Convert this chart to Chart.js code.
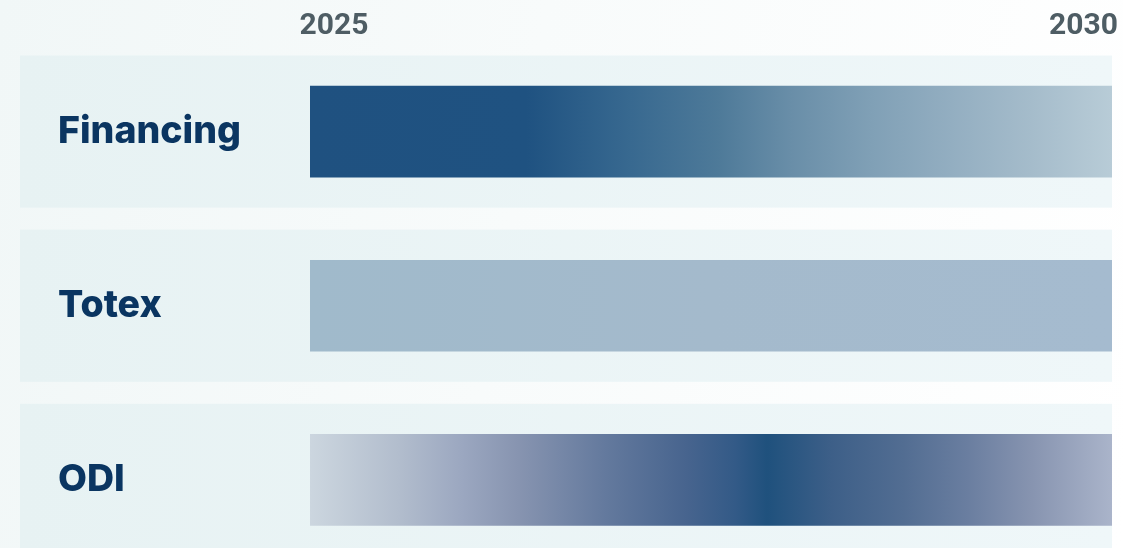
<!DOCTYPE html>
<html>
<head>
<meta charset="utf-8">
<title>timeline</title>
<script src="https://cdn.jsdelivr.net/npm/chart.js@4.4.1/dist/chart.umd.min.js"></script>
<style>
  html, body { margin: 0; padding: 0; overflow: hidden; }
  body {
    width: 1123px;
    height: 548px;
    background: linear-gradient(100deg, #f1f7f7 0%, #f8fbfb 45%, #ffffff 100%);
  }
  .wrap { position: relative; width: 1123px; height: 567px; }
</style>
</head>
<body>
<div class="wrap"><canvas id="myChart"></canvas></div>
<script>
  // rows and their periods
  const rows = ['Financing', 'Totex', 'ODI'];
  const periodStart = [2025, 2025, 2025];
  const periodEnd = [2030, 2030, 2030];
  const tickYears = [2025, 2030];
  // the year labels sit a little inside the bar ends
  const labelAxisRange = [2024.84, 2030.19];

  // gradient stops for each bar (offset, colour)
  const barStops = [
    [[0, '#1f5180'], [0.27, '#1f5281'], [0.4, '#386990'], [0.51, '#4e7a99'], [0.6, '#698ea8'],
     [0.7, '#80a0b6'], [0.8, '#93aec1'], [0.9, '#a5bccb'], [1, '#b8ccd7']],
    [[0, '#a0bacb'], [0.5, '#a4bacc'], [1, '#a5bbcf']],
    [[0, '#ccd6df'], [0.11, '#b2bdcd'], [0.19, '#9ba7c0'], [0.26, '#8794b0'], [0.37, '#63799d'],
     [0.47, '#47648e'], [0.53, '#335a87'], [0.57, '#1f517d'], [0.65, '#3d5f88'], [0.74, '#526d92'],
     [0.82, '#6a7ea0'], [0.9, '#8794b0'], [1, '#aab4ca']]
  ];

  function barFill(c) {
    const i = c.dataIndex;
    const area = c.chart.chartArea;
    if (i === undefined || !area) return '#1f5180';
    const xs = c.chart.scales.x;
    const g = c.chart.ctx.createLinearGradient(xs.getPixelForValue(periodStart[i]), 0, xs.getPixelForValue(periodEnd[i]), 0);
    barStops[i].forEach(s => g.addColorStop(s[0], s[1]));
    return g;
  }

  // light panel behind every row, drawn before the axes
  const rowPanels = {
    id: 'rowPanels',
    beforeDraw(chart) {
      const ctx = chart.ctx, area = chart.chartArea, y = chart.scales.y;
      const band = (area.bottom - area.top) / rows.length;
      const left = 20, gap = 22;
      const g = ctx.createLinearGradient(left, 0, area.right, 0);
      g.addColorStop(0, '#e7f2f3');
      g.addColorStop(1, '#eff7f9');
      ctx.save();
      ctx.fillStyle = g;
      rows.forEach((r, i) => {
        const c = y.getPixelForValue(i);
        ctx.fillRect(left, c - band / 2 + gap / 2, area.right - left, band - gap);
      });
      ctx.restore();
    }
  };

  const ctx = document.getElementById('myChart').getContext('2d');
  const myChart = new Chart(ctx, {
    type: 'bar',
    data: {
      labels: rows,
      datasets: [{
        data: rows.map((r, i) => [periodStart[i], periodEnd[i]]),
        backgroundColor: barFill,
        borderWidth: 0,
        borderSkipped: false,
        barThickness: 91,
        xAxisID: 'x',
        yAxisID: 'y'
      }]
    },
    options: {
      indexAxis: 'y',
      responsive: true,
      maintainAspectRatio: false,
      animation: false,
      layout: { padding: { left: 58, right: 11, top: 0, bottom: 0 } },
      plugins: { legend: { display: false }, tooltip: { enabled: false } },
      scales: {
        x: { type: 'linear', min: 2025, max: 2030, display: false },
        x2: {
          type: 'linear',
          position: 'top',
          min: labelAxisRange[0],
          max: labelAxisRange[1],
          grid: { display: false, drawTicks: false },
          border: { display: false },
          afterBuildTicks: s => { s.ticks = tickYears.map(v => ({ value: v })); },
          afterFit: s => { s.height = 44.5; s.paddingLeft = 0; s.paddingRight = 0; },
          ticks: {
            padding: 0,
            color: '#4e5d64',
            font: { family: 'Roboto', weight: '700', size: 30 },
            callback: v => String(v)
          }
        },
        y: {
          type: 'category',
          position: 'left',
          grid: { display: false, drawTicks: false },
          border: { display: false },
          afterFit: s => { s.width = 252; s.paddingTop = 0; s.paddingBottom = 0; },
          ticks: {
            crossAlign: 'far',
            padding: 0,
            color: '#0a3561',
            font: { family: 'Inter', weight: '800', size: 37.5 }
          }
        }
      }
    },
    plugins: [rowPanels]
  });
</script>
</body>
</html>
